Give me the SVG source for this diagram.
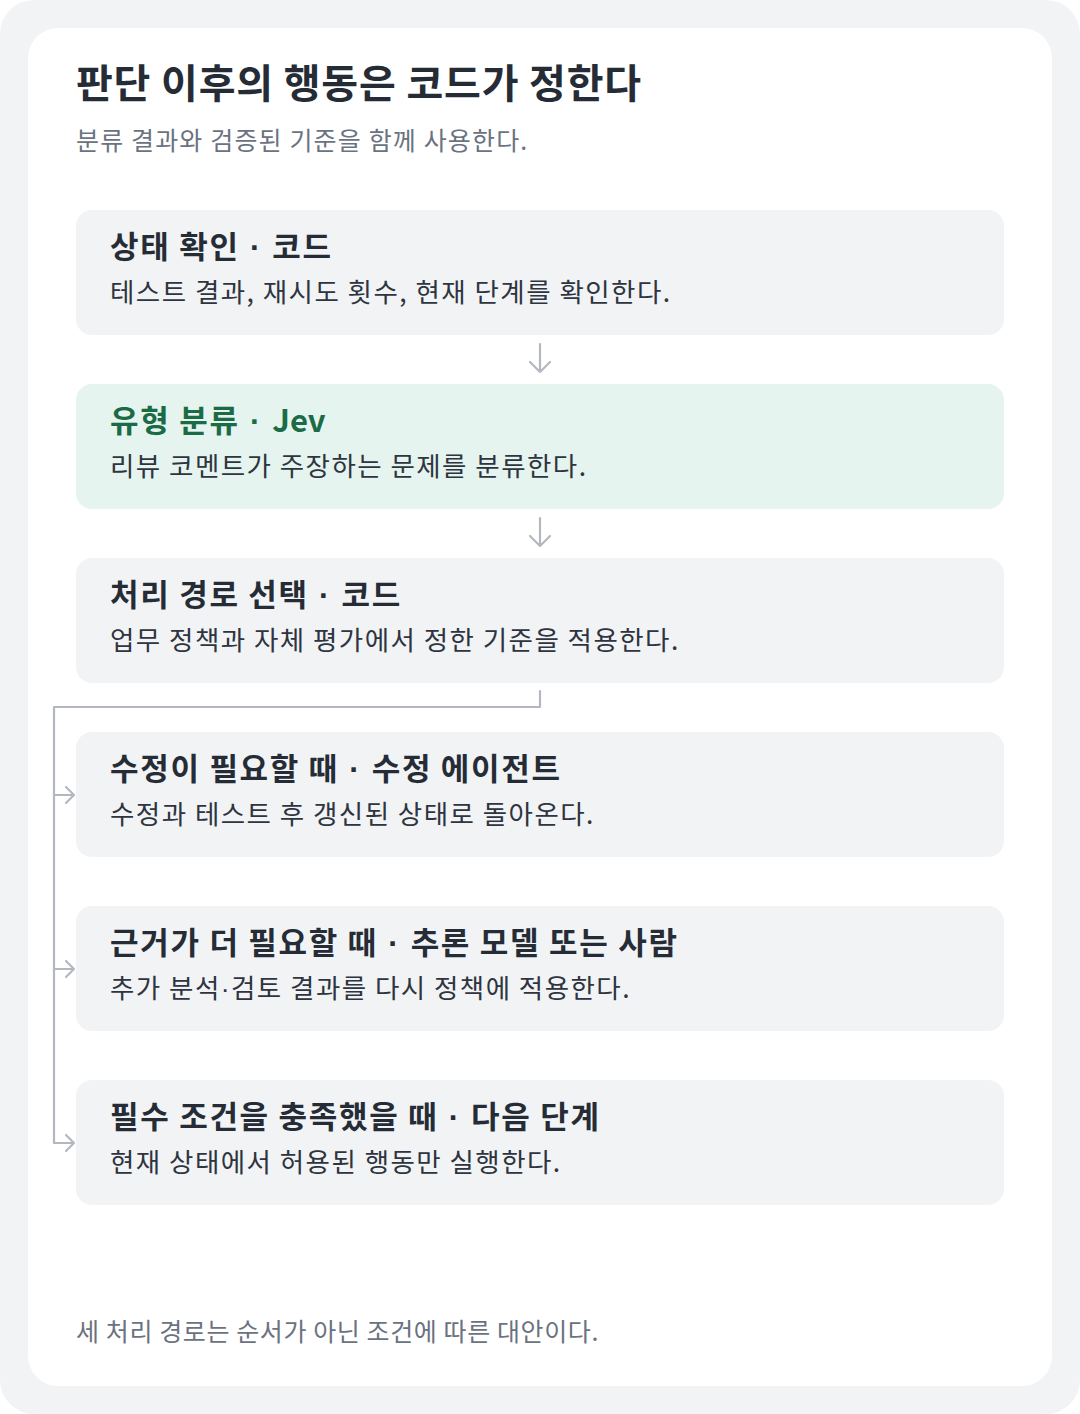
<svg xmlns="http://www.w3.org/2000/svg" width="1080" height="1414" viewBox="0 0 1080 1414">
<style>
text{font-family:"Noto Sans CJK KR","Noto Sans",sans-serif}
.h1{font-size:40px;font-weight:700;fill:#262c36;letter-spacing:0.8px}
.sub{font-size:25px;fill:#6b7280;letter-spacing:1.15px}
.foot{font-size:25px;fill:#6b7280;letter-spacing:0.6px}
.nt{font-size:31px;font-weight:700;fill:#262c36;letter-spacing:1.7px}
.nt.g{fill:#1b6b47}
.lat{letter-spacing:0}
.dot{font-family:"Liberation Sans",sans-serif}
.nd{font-size:26.5px;fill:#2e3440;letter-spacing:1.45px}
.box{fill:#f1f3f5}
.box.g{fill:#e5f4ee}
.con{fill:none;stroke:#b3b8c0;stroke-width:2.2;stroke-linecap:round;stroke-linejoin:round}
</style>
<rect x="0" y="0" width="1080" height="1414" fill="#ffffff"/>
<rect x="0" y="0" width="1080" height="1414" rx="34" fill="#f1f3f5"/>
<rect x="28" y="28" width="1024" height="1358" rx="30" fill="#ffffff"/>
<g id="header">
<text class="h1" x="76" y="98">판단 이후의 행동은 코드가 정한다</text>
<text class="sub" x="76" y="150">분류 결과와 검증된 기준을 함께 사용한다.</text>
</g>
<g id="n1">
<rect class="box" x="76" y="210" width="928" height="125" rx="16"/>
<text class="nt" x="110" y="258">상태 확인<tspan class="dot"> · </tspan>코드</text>
<text class="nd" x="110" y="302">테스트 결과, 재시도 횟수, 현재 단계를 확인한다.</text>
</g>
<g id="n2">
<rect class="box g" x="76" y="384" width="928" height="125" rx="16"/>
<text class="nt g" x="110" y="432">유형 분류<tspan class="dot"> · </tspan><tspan class="lat">Jev</tspan></text>
<text class="nd" x="110" y="476">리뷰 코멘트가 주장하는 문제를 분류한다.</text>
</g>
<g id="n3">
<rect class="box" x="76" y="558" width="928" height="125" rx="16"/>
<text class="nt" x="110" y="606">처리 경로 선택<tspan class="dot"> · </tspan>코드</text>
<text class="nd" x="110" y="650">업무 정책과 자체 평가에서 정한 기준을 적용한다.</text>
</g>
<g id="n4">
<rect class="box" x="76" y="732" width="928" height="125" rx="16"/>
<text class="nt" x="110" y="780">수정이 필요할 때<tspan class="dot"> · </tspan>수정 에이전트</text>
<text class="nd" x="110" y="824">수정과 테스트 후 갱신된 상태로 돌아온다.</text>
</g>
<g id="n5">
<rect class="box" x="76" y="906" width="928" height="125" rx="16"/>
<text class="nt" x="110" y="954">근거가 더 필요할 때<tspan class="dot"> · </tspan>추론 모델 또는 사람</text>
<text class="nd" x="110" y="998">추가 분석<tspan class="dot">·</tspan>검토 결과를 다시 정책에 적용한다.</text>
</g>
<g id="n6">
<rect class="box" x="76" y="1080" width="928" height="125" rx="16"/>
<text class="nt" x="110" y="1128">필수 조건을 충족했을 때<tspan class="dot"> · </tspan>다음 단계</text>
<text class="nd" x="110" y="1172">현재 상태에서 허용된 행동만 실행한다.</text>
</g>
<g id="connectors">
<path class="con" d="M540 344V372M530 362L540 372L550 362"/>
<path class="con" d="M540 518V546M530 536L540 546L550 536"/>
<path class="con" d="M540 691V707H54V1143"/>
<path class="con" d="M54 795H74M66 787L74 795L66 803"/>
<path class="con" d="M54 969H74M66 961L74 969L66 977"/>
<path class="con" d="M54 1143H74M66 1135L74 1143L66 1151"/>
</g>
<g id="footer">
<text class="foot" x="76" y="1341">세 처리 경로는 순서가 아닌 조건에 따른 대안이다.</text>
</g>
</svg>
